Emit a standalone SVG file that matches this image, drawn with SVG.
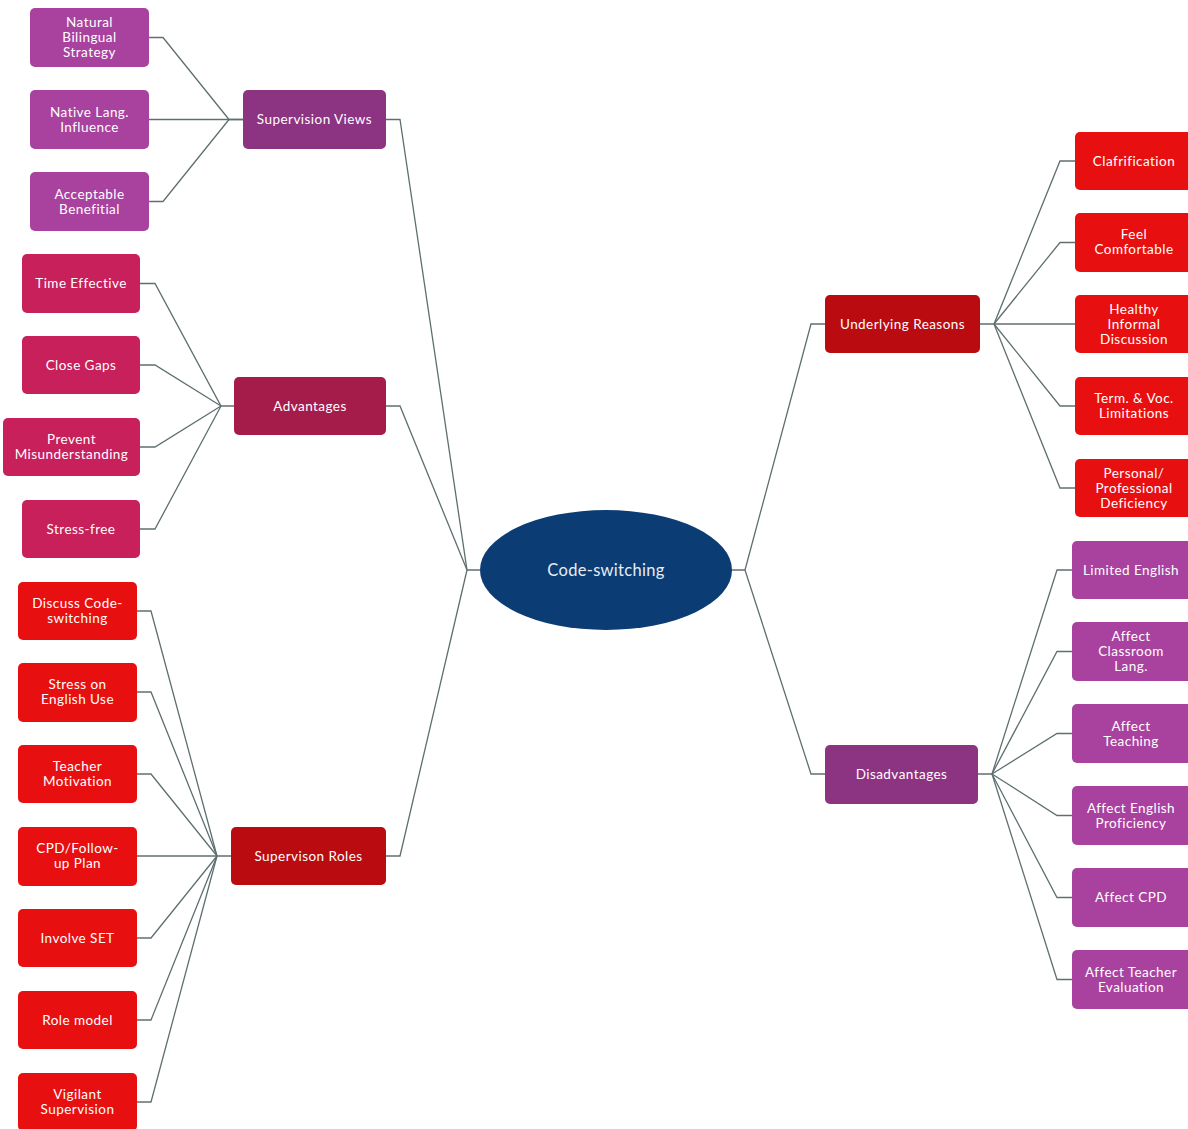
<svg xmlns="http://www.w3.org/2000/svg" width="1188" height="1129" viewBox="0 0 1188 1129">
<style>
  text { font-family: Lato, "Open Sans", "Liberation Sans", sans-serif; font-size: 13.5px; letter-spacing: 0.45px; fill: #ffffff; text-anchor: middle; }
  .c { fill: none; stroke: #5f6f70; stroke-width: 1.3; }
  .pd { fill: #8c3382; }
  .pl { fill: #a9429f; }
  .ad { fill: #a51c4b; }
  .al { fill: #c7205a; }
  .rd { fill: #b90b10; }
  .rl { fill: #e80f10; }
  .root { fill: #0b3c74; }
</style>
<rect width="1188" height="1129" fill="#ffffff"/>
<g id="connectors" class="c">
  <path d="M480 570 H467 L400 119.5 H386"/>
  <path d="M467 570 L400 406 H386"/>
  <path d="M467 570 L400 856 H386"/>
  <path d="M732 570 H745 L811 324 H825"/>
  <path d="M745 570 L811 774 H825"/>
  <path d="M149 37.5 H163 L229 119.5 H243"/>
  <path d="M149 119.5 H243"/>
  <path d="M149 201.5 H163 L229 119.5"/>
  <path d="M140 283.5 H155 L221 406 H234"/>
  <path d="M140 365 H155 L221 406"/>
  <path d="M140 447 H155 L221 406"/>
  <path d="M140 529 H155 L221 406"/>
  <path d="M137 611 H151 L217 856 H231"/>
  <path d="M137 692 H151 L217 856"/>
  <path d="M137 774 H151 L217 856"/>
  <path d="M137 856 H217"/>
  <path d="M137 938 H151 L217 856"/>
  <path d="M137 1020 H151 L217 856"/>
  <path d="M137 1102 H151 L217 856"/>
  <path d="M980 324 H994 L1060 161 H1075"/>
  <path d="M994 324 L1060 242.5 H1075"/>
  <path d="M994 324 H1075"/>
  <path d="M994 324 L1060 406 H1075"/>
  <path d="M994 324 L1060 488 H1075"/>
  <path d="M978 774 H992 L1057 570 H1072"/>
  <path d="M992 774 L1057 651.5 H1072"/>
  <path d="M992 774 L1057 733.5 H1072"/>
  <path d="M992 774 L1057 815.5 H1072"/>
  <path d="M992 774 L1057 897.5 H1072"/>
  <path d="M992 774 L1057 979.5 H1072"/>
</g>
<g id="root"><ellipse class="root" cx="606" cy="570" rx="126" ry="60"/><text x="606" y="575.5" style="font-size:16.5px;letter-spacing:0.3px;fill:#e6edf5">Code-switching</text></g>

<g id="supervision-views"><rect class="pd" x="243" y="90" width="143" height="59" rx="5"/><text x="314.5" y="124">Supervision Views</text></g>
<g id="natural"><rect class="pl" x="30" y="8" width="119" height="59" rx="5"/><text x="89.5" y="27">Natural</text><text x="89.5" y="42">Bilingual</text><text x="89.5" y="57">Strategy</text></g>
<g id="native"><rect class="pl" x="30" y="90" width="119" height="59" rx="5"/><text x="89.5" y="116.5">Native Lang.</text><text x="89.5" y="131.5">Influence</text></g>
<g id="acceptable"><rect class="pl" x="30" y="172" width="119" height="59" rx="5"/><text x="89.5" y="198.5">Acceptable</text><text x="89.5" y="213.5">Benefitial</text></g>

<g id="advantages"><rect class="ad" x="234" y="377" width="152" height="58" rx="5"/><text x="310" y="410.5">Advantages</text></g>
<g id="time"><rect class="al" x="22" y="254" width="118" height="59" rx="5"/><text x="81" y="288">Time Effective</text></g>
<g id="gaps"><rect class="al" x="22" y="336" width="118" height="58" rx="5"/><text x="81" y="369.5">Close Gaps</text></g>
<g id="prevent"><rect class="al" x="3" y="418" width="137" height="58" rx="5"/><text x="71.5" y="444">Prevent</text><text x="71.5" y="459">Misunderstanding</text></g>
<g id="stress-free"><rect class="al" x="22" y="500" width="118" height="58" rx="5"/><text x="81" y="533.5">Stress-free</text></g>

<g id="roles"><rect class="rd" x="231" y="827" width="155" height="58" rx="5"/><text x="308.5" y="860.5">Supervison Roles</text></g>
<g id="discuss"><rect class="rl" x="18" y="582" width="119" height="58" rx="5"/><text x="77.5" y="608">Discuss Code-</text><text x="77.5" y="623">switching</text></g>
<g id="stress-eng"><rect class="rl" x="18" y="663" width="119" height="59" rx="5"/><text x="77.5" y="689">Stress on</text><text x="77.5" y="704">English Use</text></g>
<g id="motivation"><rect class="rl" x="18" y="745" width="119" height="58" rx="5"/><text x="77.5" y="771">Teacher</text><text x="77.5" y="786">Motivation</text></g>
<g id="cpd-plan"><rect class="rl" x="18" y="827" width="119" height="59" rx="5"/><text x="77.5" y="853">CPD/Follow-</text><text x="77.5" y="868">up Plan</text></g>
<g id="involve"><rect class="rl" x="18" y="909" width="119" height="58" rx="5"/><text x="77.5" y="942.5">Involve SET</text></g>
<g id="role-model"><rect class="rl" x="18" y="991" width="119" height="58" rx="5"/><text x="77.5" y="1024.5">Role model</text></g>
<g id="vigilant"><rect class="rl" x="18" y="1073" width="119" height="58" rx="5"/><text x="77.5" y="1099">Vigilant</text><text x="77.5" y="1114">Supervision</text></g>

<g id="reasons"><rect class="rd" x="825" y="295" width="155" height="58" rx="5"/><text x="902.5" y="328.5">Underlying Reasons</text></g>
<g id="clar"><rect class="rl" x="1075" y="132" width="118" height="58" rx="5"/><text x="1134" y="165.5">Clafrification</text></g>
<g id="feel"><rect class="rl" x="1075" y="213" width="118" height="59" rx="5"/><text x="1134" y="239">Feel</text><text x="1134" y="254">Comfortable</text></g>
<g id="healthy"><rect class="rl" x="1075" y="295" width="118" height="58" rx="5"/><text x="1134" y="313.5">Healthy</text><text x="1134" y="328.5">Informal</text><text x="1134" y="343.5">Discussion</text></g>
<g id="term"><rect class="rl" x="1075" y="377" width="118" height="58" rx="5"/><text x="1134" y="403">Term. &amp; Voc.</text><text x="1134" y="418">Limitations</text></g>
<g id="personal"><rect class="rl" x="1075" y="459" width="118" height="58" rx="5"/><text x="1134" y="477.5">Personal/</text><text x="1134" y="492.5">Professional</text><text x="1134" y="507.5">Deficiency</text></g>

<g id="disadvantages"><rect class="pd" x="825" y="745" width="153" height="59" rx="5"/><text x="901.5" y="779">Disadvantages</text></g>
<g id="limited"><rect class="pl" x="1072" y="541" width="120" height="58" rx="5"/><text x="1131" y="574.5">Limited English</text></g>
<g id="classroom"><rect class="pl" x="1072" y="622" width="120" height="59" rx="5"/><text x="1131" y="641">Affect</text><text x="1131" y="656">Classroom</text><text x="1131" y="671">Lang.</text></g>
<g id="teaching"><rect class="pl" x="1072" y="704" width="120" height="59" rx="5"/><text x="1131" y="730.5">Affect</text><text x="1131" y="745.5">Teaching</text></g>
<g id="proficiency"><rect class="pl" x="1072" y="786" width="120" height="59" rx="5"/><text x="1131" y="812.5">Affect English</text><text x="1131" y="827.5">Proficiency</text></g>
<g id="affect-cpd"><rect class="pl" x="1072" y="868" width="120" height="59" rx="5"/><text x="1131" y="902">Affect CPD</text></g>
<g id="evaluation"><rect class="pl" x="1072" y="950" width="120" height="59" rx="5"/><text x="1131" y="976.5">Affect Teacher</text><text x="1131" y="991.5">Evaluation</text></g>
</svg>
